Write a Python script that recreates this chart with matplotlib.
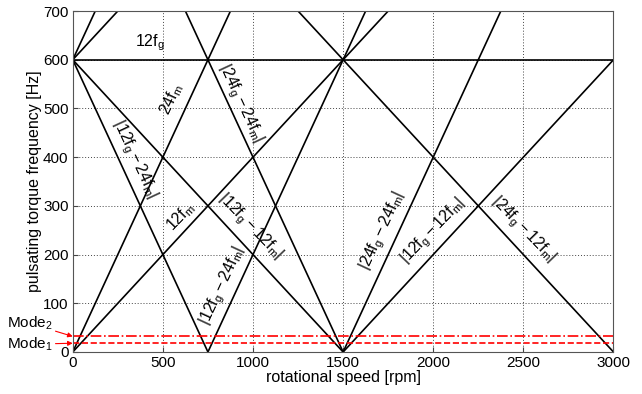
import matplotlib
matplotlib.use("Agg")
import matplotlib.pyplot as plt

plt.rcParams["font.family"] = ["Liberation Sans", "DejaVu Sans"]
plt.rcParams["mathtext.fontset"] = "custom"
plt.rcParams["mathtext.rm"] = "Liberation Sans"
plt.rcParams["mathtext.default"] = "regular"

# harmonic lines: vertices (rpm, Hz)
line_12fg_rpm = [0, 3000]
line_12fg_hz = [600, 600]
line_24fm_rpm = [0, 875]
line_24fm_hz = [0, 700]
line_12fm_rpm = [0, 1750]
line_12fm_hz = [0, 700]
line_12fg_p24fm_rpm = [0, 125]
line_12fg_p24fm_hz = [600, 700]
line_12fg_p12fm_rpm = [0, 250]
line_12fg_p12fm_hz = [600, 700]
line_12fg_24fm_rpm = [0, 750, 1625]
line_12fg_24fm_hz = [600, 0, 700]
line_12fg_12fm_rpm = [0, 1500, 3000]
line_12fg_12fm_hz = [600, 0, 600]
line_24fg_24fm_rpm = [625, 1500, 2375]
line_24fg_24fm_hz = [700, 0, 700]
line_24fg_12fm_rpm = [1250, 3000]
line_24fg_12fm_hz = [700, 0]

# natural frequencies of the shaft modes [Hz]
mode1_hz = 18
mode2_hz = 32

lines = [
    (line_12fg_rpm, line_12fg_hz),
    (line_24fm_rpm, line_24fm_hz),
    (line_12fm_rpm, line_12fm_hz),
    (line_12fg_p24fm_rpm, line_12fg_p24fm_hz),
    (line_12fg_p12fm_rpm, line_12fg_p12fm_hz),
    (line_12fg_24fm_rpm, line_12fg_24fm_hz),
    (line_12fg_12fm_rpm, line_12fg_12fm_hz),
    (line_24fg_24fm_rpm, line_24fg_24fm_hz),
    (line_24fg_12fm_rpm, line_24fg_12fm_hz),
]

# (text, rpm, Hz, rotation)
labels = [
    (r"$12f_g$", 430, 636, 0),
    (r"$24f_m$", 550, 519, 65),
    (r"$|24f_g - 24f_m|$", 933, 511, -65),
    (r"$|12f_g - 24f_m|$", 344, 395, -65),
    (r"$12f_m$", 600, 277, 46),
    (r"$|12f_g - 12f_m|$", 983, 257, -46),
    (r"$|12f_g - 24f_m|$", 835, 135, 65),
    (r"$|24f_g - 24f_m|$", 1722, 248, 65),
    (r"$|12f_g - 12f_m|$", 2000, 248, 46),
    (r"$|24f_g - 12f_m|$", 2500, 252, -46),
]

fig = plt.figure(figsize=(6.42, 3.94), dpi=100)
ax = fig.add_axes([0.1133, 0.1066, 0.8423, 0.8654])

for rpm, hz in lines:
    ax.plot(rpm, hz, color="black", linewidth=1.2)

ax.axhline(mode2_hz, color="red", linewidth=1.2, linestyle="-.")
ax.axhline(mode1_hz, color="red", linewidth=1.2, linestyle="--")

for text, x, y, rot in labels:
    ax.text(x, y, text, rotation=rot, fontsize=11.5, ha="center", va="center",
            rotation_mode="anchor")

ax.annotate(r"Mode$_2$", xy=(0, mode2_hz), xytext=(-20, 13),
            textcoords="offset pixels", ha="right", va="center", fontsize=11,
            annotation_clip=False,
            arrowprops=dict(arrowstyle="-|>", color="red", lw=0.8,
                            mutation_scale=7, shrinkA=0, shrinkB=0))
ax.annotate(r"Mode$_1$", xy=(0, mode1_hz), xytext=(-20, -1),
            textcoords="offset pixels", ha="right", va="center", fontsize=11,
            annotation_clip=False,
            arrowprops=dict(arrowstyle="-|>", color="red", lw=0.8,
                            mutation_scale=7, shrinkA=0, shrinkB=0))

ax.set_xlim(0, 3000)
ax.set_ylim(0, 700)
ax.set_xticks(range(0, 3001, 500))
ax.set_yticks(range(0, 701, 100))
ax.grid(True, color="#444444", linestyle=(0, (1, 2)), linewidth=0.7)
ax.tick_params(direction="in", labelsize=11, colors="#444444", labelcolor="black",
               pad=3)
for spine in ax.spines.values():
    spine.set_color("#555555")
ax.set_xlabel("rotational speed [rpm]", fontsize=11.5, labelpad=0)
ax.set_ylabel("pulsating torque frequency [Hz]", fontsize=11.5, labelpad=1)

fig.savefig("out.png", dpi=100)
